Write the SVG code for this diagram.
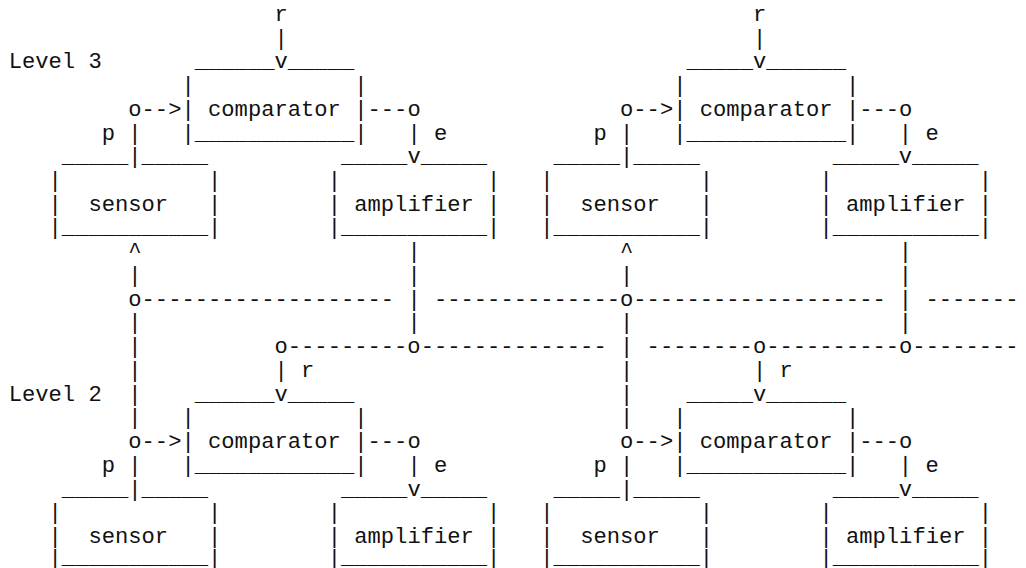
<svg xmlns="http://www.w3.org/2000/svg" width="1026" height="568" viewBox="0 0 1026 568" xml:space="preserve">
<style>
  text { font-family: "Liberation Mono", "DejaVu Sans Mono", monospace; font-size: 22.15px; fill: #111; white-space: pre; }
</style>
<rect width="1026" height="568" fill="#fff"/>
<!-- grid: column c at x = 8.7 + 13.29*c, row r baseline at y = 20.8 + 23.74*(r-1);
     the last row is lifted and squeezed slightly about its baseline to stay inside the frame -->

<!-- level captions -->
<g id="level-labels">
<text x="8.7" y="68.28">Level 3</text>
<text x="8.7" y="400.64">Level 2</text>
</g>

<!-- Level 3, left loop -->
<g id="l3a-comparator">
<text x="194.76" y="68.28">______</text><text x="287.79" y="68.28">_____</text>
<text x="181.47" y="92.02">|            |</text>
<text x="181.47" y="115.76">| comparator |</text>
<text x="181.47" y="139.5">|____________|</text>
</g>
<g id="l3a-sensor">
<text x="61.86" y="163.24">_____</text><text x="141.6" y="163.24">_____</text>
<text x="48.57" y="186.98">|           |</text>
<text x="48.57" y="210.72">|  sensor   |</text>
<text x="48.57" y="234.46">|___________|</text>
</g>
<g id="l3a-amplifier">
<text x="340.95" y="163.24">_____</text><text x="420.69" y="163.24">_____</text>
<text x="327.66" y="186.98">|           |</text>
<text x="327.66" y="210.72">| amplifier |</text>
<text x="327.66" y="234.46">|___________|</text>
</g>

<!-- Level 3, right loop -->
<g id="l3b-comparator">
<text x="686.49" y="68.28">_____</text><text x="766.23" y="68.28">______</text>
<text x="673.2" y="92.02">|            |</text>
<text x="673.2" y="115.76">| comparator |</text>
<text x="673.2" y="139.5">|____________|</text>
</g>
<g id="l3b-sensor">
<text x="553.59" y="163.24">_____</text><text x="633.33" y="163.24">_____</text>
<text x="540.3" y="186.98">|           |</text>
<text x="540.3" y="210.72">|  sensor   |</text>
<text x="540.3" y="234.46">|___________|</text>
</g>
<g id="l3b-amplifier">
<text x="832.68" y="163.24">_____</text><text x="912.12" y="163.24">_____</text>
<text x="819.39" y="186.98">|           |</text>
<text x="819.39" y="210.72">| amplifier |</text>
<text x="819.39" y="234.46">|___________|</text>
</g>

<!-- Level 2, left loop -->
<g id="l2a-comparator">
<text x="194.76" y="400.64">______</text><text x="287.79" y="400.64">_____</text>
<text x="181.47" y="424.38">|            |</text>
<text x="181.47" y="448.12">| comparator |</text>
<text x="181.47" y="471.86">|____________|</text>
</g>
<g id="l2a-sensor">
<text x="61.86" y="495.6">_____</text><text x="141.6" y="495.6">_____</text>
<text x="48.57" y="519.34">|           |</text>
<text x="48.57" y="543.08">|  sensor   |</text>
<text x="48.57" y="563.6" transform="matrix(1 0 0 0.9 0 56.36)">|___________|</text>
</g>
<g id="l2a-amplifier">
<text x="340.95" y="495.6">_____</text><text x="420.69" y="495.6">_____</text>
<text x="327.66" y="519.34">|           |</text>
<text x="327.66" y="543.08">| amplifier |</text>
<text x="327.66" y="563.6" transform="matrix(1 0 0 0.9 0 56.36)">|___________|</text>
</g>

<!-- Level 2, right loop -->
<g id="l2b-comparator">
<text x="686.49" y="400.64">_____</text><text x="766.23" y="400.64">______</text>
<text x="673.2" y="424.38">|            |</text>
<text x="673.2" y="448.12">| comparator |</text>
<text x="673.2" y="471.86">|____________|</text>
</g>
<g id="l2b-sensor">
<text x="553.59" y="495.6">_____</text><text x="633.33" y="495.6">_____</text>
<text x="540.3" y="519.34">|           |</text>
<text x="540.3" y="543.08">|  sensor   |</text>
<text x="540.3" y="563.6" transform="matrix(1 0 0 0.9 0 56.36)">|___________|</text>
</g>
<g id="l2b-amplifier">
<text x="832.68" y="495.6">_____</text><text x="912.12" y="495.6">_____</text>
<text x="819.39" y="519.34">|           |</text>
<text x="819.39" y="543.08">| amplifier |</text>
<text x="819.39" y="563.6" transform="matrix(1 0 0 0.9 0 56.36)">|___________|</text>
</g>

<!-- signal names -->
<g id="signal-labels">
<text x="274.5" y="20.8">r</text><text x="752.94" y="20.8">r</text>
<text x="101.73" y="139.5">p</text><text x="433.98" y="139.5">e</text>
<text x="593.46" y="139.5">p</text><text x="925.41" y="139.5">e</text>
<text x="301.08" y="376.9">r</text><text x="779.52" y="376.9">r</text>
<text x="101.73" y="471.86">p</text><text x="433.98" y="471.86">e</text>
<text x="593.46" y="471.86">p</text><text x="925.41" y="471.86">e</text>
</g>

<!-- signal paths, junctions and arrowheads -->
<g id="connectors">
<!-- references into level 3 -->
<text x="274.5" y="44.54">|</text><text x="752.94" y="44.54">|</text>
<text x="274.5" y="68.28">v</text><text x="752.94" y="68.28">v</text>
<!-- level 3 loops -->
<text x="128.31" y="115.76">o--></text><text x="367.53" y="115.76">---o</text>
<text x="620.04" y="115.76">o--></text><text x="859.26" y="115.76">---o</text>
<text x="128.31" y="139.5">|</text><text x="407.4" y="139.5">|</text>
<text x="620.04" y="139.5">|</text><text x="898.83" y="139.5">|</text>
<text x="128.31" y="163.24">|</text><text x="407.4" y="163.24">v</text>
<text x="620.04" y="163.24">|</text><text x="898.83" y="163.24">v</text>
<!-- between levels -->
<text x="128.31" y="258.2">^</text><text x="407.4" y="258.2">|</text>
<text x="620.04" y="258.2">^</text><text x="898.83" y="258.2">|</text>
<text x="128.31" y="281.94">|</text><text x="407.4" y="281.94">|</text>
<text x="620.04" y="281.94">|</text><text x="898.83" y="281.94">|</text>
<text x="128.31" y="305.68">o-------------------</text>
<text x="407.4" y="305.68">|</text>
<text x="433.98" y="305.68">--------------o-------------------</text>
<text x="898.83" y="305.68">|</text>
<text x="925.41" y="305.68">-------</text>
<text x="128.31" y="329.42">|</text><text x="407.4" y="329.42">|</text>
<text x="620.04" y="329.42">|</text><text x="898.83" y="329.42">|</text>
<text x="128.31" y="353.16">|</text>
<text x="274.5" y="353.16">o---------o--------------</text>
<text x="620.04" y="353.16">|</text>
<text x="646.62" y="353.16">--------o----------o--------</text>
<text x="128.31" y="376.9">|</text><text x="274.5" y="376.9">|</text>
<text x="620.04" y="376.9">|</text><text x="752.94" y="376.9">|</text>
<text x="128.31" y="400.64">|</text><text x="274.5" y="400.64">v</text>
<text x="620.04" y="400.64">|</text><text x="752.94" y="400.64">v</text>
<text x="128.31" y="424.38">|</text><text x="620.04" y="424.38">|</text>
<!-- level 2 loops -->
<text x="128.31" y="448.12">o--></text><text x="367.53" y="448.12">---o</text>
<text x="620.04" y="448.12">o--></text><text x="859.26" y="448.12">---o</text>
<text x="128.31" y="471.86">|</text><text x="407.4" y="471.86">|</text>
<text x="620.04" y="471.86">|</text><text x="898.83" y="471.86">|</text>
<text x="128.31" y="495.6">|</text><text x="407.4" y="495.6">v</text>
<text x="620.04" y="495.6">|</text><text x="898.83" y="495.6">v</text>
</g>
</svg>
